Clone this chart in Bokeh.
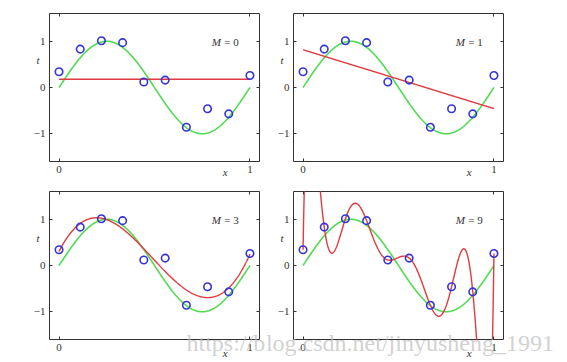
import numpy as np
from bokeh.plotting import figure
from bokeh.layouts import column, row
from bokeh.models import Label, LinearAxis, FixedTicker, Range1d
from bokeh.embed import file_html
from bokeh.resources import INLINE

# ---- data ----
x_points = [0.0, 0.111, 0.222, 0.333, 0.444, 0.556, 0.667, 0.778, 0.889, 1.0]
t_points = [0.34, 0.83, 1.01, 0.97, 0.12, 0.16, -0.86, -0.46, -0.57, 0.26]
orders = [0, 1, 3, 9]
x_ticks = [0, 1]
y_ticks = [-1, 0, 1]
y_tick_labels = {-1: "\u22121", 0: "0", 1: "1"}
watermark_parts = ["https://b", "log.csdn.net/jinyusheng_1991"]

GREEN = "#52da52"
RED = "#e03a40"
BLUE = "#3434d8"
DARK = "#333333"
SERIF = "Liberation Serif"

X0, X1 = -0.05, 1.05
Y0, Y1 = -1.6, 1.6

xs = np.linspace(0, 1, 400)
true_curve = np.sin(2 * np.pi * xs)
xp = np.array(x_points)
tp = np.array(t_points)


def fit_curve(m):
    V = np.vander(xp, m + 1, increasing=True)
    coef, *_ = np.linalg.lstsq(V, tp, rcond=None)
    return np.vander(xs, m + 1, increasing=True) @ coef


def text_axis(pos, text, size, style, color, alpha, standoff):
    ax = LinearAxis(ticker=FixedTicker(ticks=[pos]),
                    major_label_overrides={pos: text})
    ax.axis_line_color = None
    ax.major_tick_line_color = None
    ax.minor_tick_line_color = None
    ax.major_label_text_font = SERIF
    ax.major_label_text_font_style = style
    ax.major_label_text_font_size = size
    ax.major_label_text_color = color
    ax.major_label_text_alpha = alpha
    ax.major_label_standoff = standoff
    return ax


def make_panel(m, left_border, right_border, top_border, bottom_border, x_standoff, wm):
    p = figure(frame_width=210, frame_height=148,
               x_range=Range1d(X0, X1), y_range=Range1d(Y0, Y1),
               output_backend="svg", toolbar_location=None,
               x_axis_location=None, y_axis_location=None,
               min_border_left=left_border, min_border_right=right_border,
               min_border_top=top_border, min_border_bottom=bottom_border,
               background_fill_color="white", border_fill_color="white",
               outline_line_color=DARK, outline_line_width=1)
    p.xgrid.visible = False
    p.ygrid.visible = False

    for loc, ticks, dim in (("below", x_ticks, "x"), ("above", x_ticks, "x"),
                            ("left", y_ticks, "y"), ("right", y_ticks, "y")):
        ax = LinearAxis(ticker=FixedTicker(ticks=ticks))
        ax.axis_line_color = None
        ax.major_tick_in = 3
        ax.major_tick_out = 0
        ax.major_tick_line_color = DARK
        ax.minor_tick_line_color = None
        ax.major_label_text_font = SERIF
        if loc in ("below", "left"):
            ax.major_label_text_color = DARK
            ax.major_label_text_font_size = "11px"
            ax.major_label_standoff = 4
            if dim == "y":
                ax.major_label_overrides = y_tick_labels
        else:
            ax.major_label_text_color = None
            ax.major_label_text_font_size = "1px"
            ax.major_label_standoff = 0
        p.add_layout(ax, loc)

    p.line(xs, true_curve, line_color=GREEN, line_width=1.6)
    p.line(xs, fit_curve(m), line_color=RED, line_width=1.4)
    p.scatter(x_points, t_points, size=7.5, fill_color=None,
              line_color=BLUE, line_width=1.6)

    # watermark (stacked right after the tick-label axis)
    if wm is not None:
        pos, text = wm
        p.add_layout(text_axis(pos, text, "24px", "normal", "#bdbdbd", 0.7, -30), "below")

    # axis names "t" and "x" (italic), placed like the reference
    p.add_layout(text_axis(0.6, "t", "11px", "italic", DARK, 1.0, -15), "left")
    p.add_layout(text_axis(0.87, "x", "11px", "italic", DARK, 1.0, x_standoff), "below")

    p.add_layout(Label(x=0.80, y=0.98, text="M",
                       text_font=SERIF, text_font_style="italic",
                       text_font_size="11px", text_color=DARK,
                       text_align="left", text_baseline="middle"))
    p.add_layout(Label(x=0.865, y=0.98, text="= %d" % m,
                       text_font=SERIF, text_font_size="11px", text_color=DARK,
                       text_align="left", text_baseline="middle"))
    return p


p1 = make_panel(orders[0], 49, 6, 13, 25, -16, None)
p2 = make_panel(orders[1], 28, 20, 13, 25, -16, None)
p3 = make_panel(orders[2], 49, 6, 5, 20, -18, (0.877, watermark_parts[0]))
p4 = make_panel(orders[3], 28, 54, 5, 20, -18, (0.560, watermark_parts[1]))

layout = column(row(p1, p2, spacing=0), row(p3, p4, spacing=0), spacing=0)

open("out.html", "w").write(file_html(layout, INLINE))
